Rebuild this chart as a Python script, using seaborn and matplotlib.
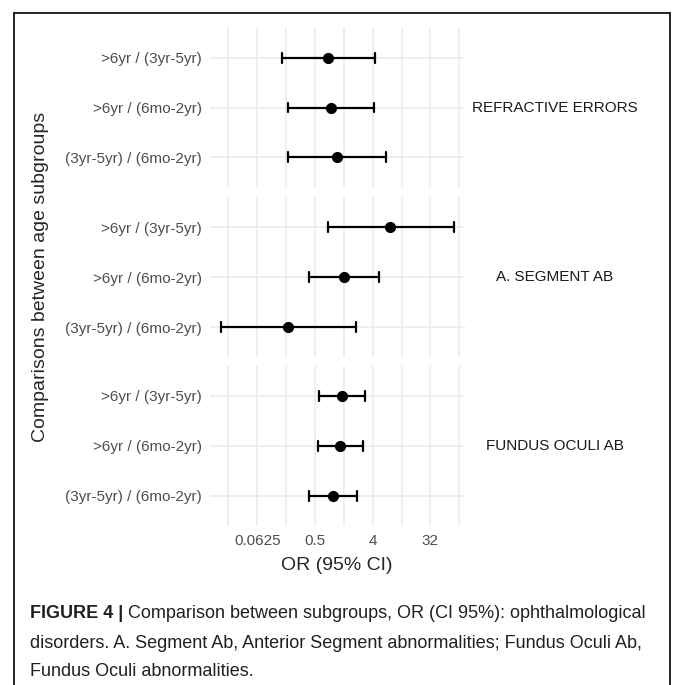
import numpy as np
import pandas as pd
import matplotlib
matplotlib.use('Agg')
import matplotlib.pyplot as plt
from matplotlib.ticker import FixedLocator, NullFormatter
from matplotlib.lines import Line2D
import seaborn as sns

# odds ratios
groups = ['REFRACTIVE ERRORS', 'A. SEGMENT AB', 'FUNDUS OCULI AB']
comparisons = ['>6yr / (3yr-5yr)', '>6yr / (6mo-2yr)', '(3yr-5yr) / (6mo-2yr)']
or_est = [0.80, 0.89, 1.10, 7.6, 1.42, 0.19, 1.32, 1.25, 0.97]
ci_low = [0.152, 0.186, 0.19, 0.79, 0.41, 0.0166, 0.57, 0.56, 0.41]
ci_high = [4.36, 4.2, 6.5, 74.0, 5.0, 2.2, 3.08, 2.83, 2.28]

x_ticks = [0.0625, 0.5, 4, 32]
x_ticklabels = ['0.0625', '0.5', '4', '32']

# long table: low / estimate / high per comparison; median -> estimate, min/max -> CI
rows = []
for i, (lo, est, hi) in enumerate(zip(ci_low, or_est, ci_high)):
    for v in (lo, est, hi):
        rows.append({'group': groups[i // 3], 'comparison': comparisons[i % 3], 'OR': v})
df = pd.DataFrame(rows)

sns.set_theme(style='white')
plt.rcParams['font.family'] = ['Liberation Sans', 'DejaVu Sans']

fig = plt.figure(figsize=(6.73, 6.85), dpi=100)
W, H = 673, 685

px_left, px_right = 210, 465
panel_px = [(28, 187), (197, 357), (366, 526)]

minor = [2 ** -5.5, 2 ** -2.5, 2 ** 0.5, 2 ** 3.5, 2 ** 6.5]
grid_c = '#EBEBEB'

for k, (top, bot) in enumerate(panel_px):
    ax = fig.add_axes([px_left / W, 1 - bot / H, (px_right - px_left) / W, (bot - top) / H])
    sub = df[df.group == groups[k]]
    sns.pointplot(data=sub, x='OR', y='comparison', order=comparisons,
                  estimator='median', errorbar=lambda v: (v.min(), v.max()),
                  color='black', linestyle='none', markersize=6,
                  capsize=0.2, err_kws={'linewidth': 1.6}, log_scale=2, ax=ax)
    ax.set_xscale('log', base=2)
    ax.set_xlim(2 ** -6.46, 2 ** 6.80)
    ax.set_ylim(2.6, -0.6)
    ax.set_xticks(x_ticks)
    ax.xaxis.set_minor_locator(FixedLocator(minor))
    ax.xaxis.set_minor_formatter(NullFormatter())
    if k == 2:
        ax.set_xticklabels(x_ticklabels)
    else:
        ax.set_xticklabels([])
    ax.grid(which='major', color=grid_c, lw=1.2)
    ax.grid(which='minor', axis='x', color=grid_c, lw=1.2)
    ax.set_axisbelow(True)
    ax.tick_params(which='both', length=0, labelsize=11, labelcolor='#4D4D4D', pad=6)
    for s in ax.spines.values():
        s.set_visible(False)
    ax.set_xlabel('')
    ax.set_ylabel('')
    # facet strip on the right
    ax.text(1.0 + (555 - px_right) / (px_right - px_left), 0.5, groups[k],
            transform=ax.transAxes, ha='center', va='center', fontsize=11, color='#1A1A1A')

fig.text(337 / W, 1 - 565 / H, 'OR (95% CI)', ha='center', va='center', fontsize=14)
fig.text(41 / W, 1 - 277 / H, 'Comparisons between age subgroups', rotation=90,
         ha='center', va='center', fontsize=14)

# frame round the figure (open at the bottom)
for xs, ys in [([14, 14], [13, H]), ([14, 670], [13, 13]), ([670, 670], [13, H])]:
    fig.add_artist(Line2D([x / W for x in xs], [1 - y / H for y in ys], color='black', lw=1.2))

# caption, sized so the first line runs to the right margin
cap_font = ['Liberation Sans', 'DejaVu Sans']
cap_color = '#231F20'
lines = ['Comparison between subgroups, OR (CI 95%): ophthalmological',
         'disorders. A. Segment Ab, Anterior Segment abnormalities; Fundus Oculi Ab,',
         'Fundus Oculi abnormalities.']
cap_y = [613, 643, 672]
fig.canvas.draw()
renderer = fig.canvas.get_renderer()


def put_caption(size):
    arts = []
    b = fig.text(30 / W, 1 - cap_y[0] / H, 'FIGURE 4 |', fontsize=size, fontweight='bold',
                 family=cap_font, color=cap_color, va='center', ha='left')
    bb = b.get_window_extent(renderer)
    t = fig.text((bb.x1 + 5) / W, 1 - cap_y[0] / H, lines[0], fontsize=size, family=cap_font,
                 color=cap_color, va='center', ha='left')
    arts += [b, t]
    for txt, y in zip(lines[1:], cap_y[1:]):
        arts.append(fig.text(30 / W, 1 - y / H, txt, fontsize=size, family=cap_font,
                             color=cap_color, va='center', ha='left'))
    return arts, t.get_window_extent(renderer).x1


arts, right = put_caption(14)
for a in arts:
    a.remove()
size = 14 * (650 - 30) / (right - 30)
put_caption(size)

fig.savefig('out.png', dpi=100)
